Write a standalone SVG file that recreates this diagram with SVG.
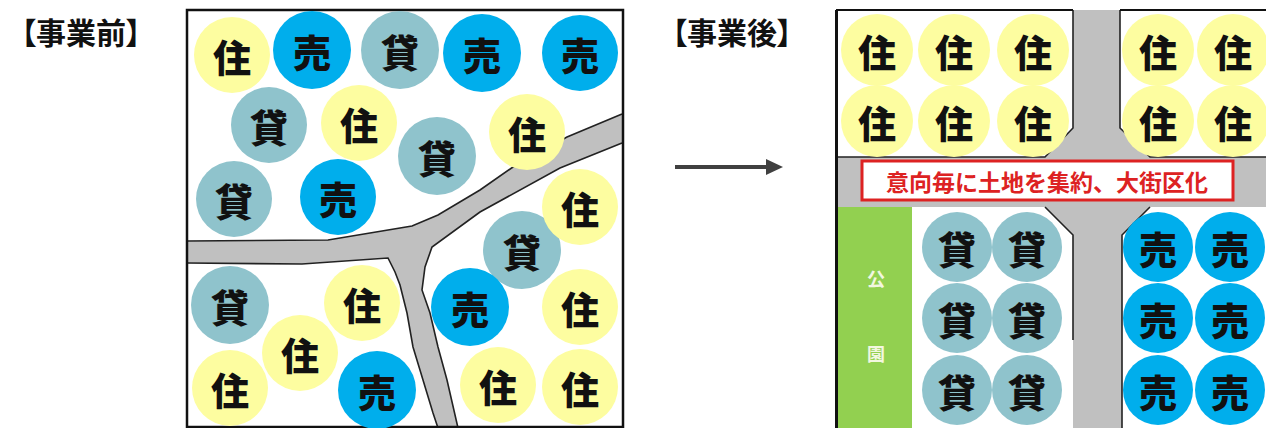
<svg xmlns="http://www.w3.org/2000/svg" width="1266" height="428" viewBox="0 0 1266 428">
<style>
text{font-family:"Noto Sans CJK JP","Noto Sans CJK SC",sans-serif;dominant-baseline:central;text-anchor:middle}
.y{fill:#FDFDA0}
.b{fill:#00AEEC}
.t{fill:#8FC3CC}
.lbl{font-size:38px;font-weight:900;fill:#111}
.ttl{font-size:30px;font-weight:700;fill:#111;text-anchor:start;font-feature-settings:"palt"}
.road{fill:#C0C0C0}
.edge{fill:none;stroke:#222;stroke-width:1.6}
.frame{fill:none;stroke:#111;stroke-width:2.5}
</style>
<rect width="1266" height="428" fill="#fff"/>

<g id="title-before"><text class="ttl" x="21" y="31">【事業前】</text></g>
<g id="title-after"><text class="ttl" x="672" y="31">【事業後】</text></g>

<!-- BEFORE panel -->
<g id="before-roads">
<path class="road" d="M187,241 L328,240 L412,226 L438,215 L480,190 L513,167 L567,137 L622,114 L622,143 L560,168 L480,212 L432,247 L425,267 L422,290 L430,313 L438,347 L447,380 L458,428 L438,428 L433,413 L423,380 L413,347 L407,313 L400,285 L395,272 L388,258 L302,264 L187,263 Z"/>
<polyline class="edge" points="187,241 328,240 412,226 438,215 480,190 513,167 567,137 622,114"/>
<polyline class="edge" points="622,143 560,168 480,212 432,247 425,267 422,290 430,313 438,347 447,380 458,428"/>
<polyline class="edge" points="187,263 302,264 388,258 395,272 400,285 407,313 413,347 423,380 433,413 438,428"/>
</g>
<g id="before-frame"><rect class="frame" x="187" y="10" width="436" height="417"/></g>

<g id="b1"><circle class="y" cx="232" cy="55" r="38"/><text class="lbl" x="232" y="55">住</text></g>
<g id="b2"><circle class="b" cx="312" cy="50" r="39"/><text class="lbl" x="312" y="50">売</text></g>
<g id="b3"><circle class="t" cx="400" cy="50" r="39"/><text class="lbl" x="400" y="50">貸</text></g>
<g id="b4"><circle class="b" cx="482" cy="53" r="39"/><text class="lbl" x="482" y="53">売</text></g>
<g id="b5"><circle class="b" cx="580" cy="53" r="38"/><text class="lbl" x="580" y="53">売</text></g>
<g id="b6"><circle class="t" cx="269" cy="125" r="38"/><text class="lbl" x="269" y="125">貸</text></g>
<g id="b7"><circle class="y" cx="359" cy="123" r="38"/><text class="lbl" x="359" y="123">住</text></g>
<g id="b8"><circle class="t" cx="437" cy="156" r="39"/><text class="lbl" x="437" y="156">貸</text></g>
<g id="b9"><circle class="y" cx="527" cy="132" r="38"/><text class="lbl" x="527" y="132">住</text></g>
<g id="b10"><circle class="t" cx="234" cy="199" r="38"/><text class="lbl" x="234" y="199">貸</text></g>
<g id="b11"><circle class="b" cx="338" cy="197" r="38"/><text class="lbl" x="338" y="197">売</text></g>
<g id="b12"><circle class="t" cx="522" cy="250" r="39"/><text class="lbl" x="522" y="250">貸</text></g>
<g id="b13"><circle class="y" cx="580" cy="207" r="38"/><text class="lbl" x="580" y="207">住</text></g>
<g id="b14"><circle class="t" cx="230" cy="305" r="39"/><text class="lbl" x="230" y="305">貸</text></g>
<g id="b15"><circle class="y" cx="362" cy="303" r="38"/><text class="lbl" x="362" y="303">住</text></g>
<g id="b16"><circle class="y" cx="230" cy="388" r="38"/><text class="lbl" x="230" y="388">住</text></g>
<g id="b17"><circle class="y" cx="300" cy="353" r="38"/><text class="lbl" x="300" y="353">住</text></g>
<g id="b18"><circle class="b" cx="377" cy="390" r="39"/><text class="lbl" x="377" y="390">売</text></g>
<g id="b19"><circle class="b" cx="470" cy="307" r="39"/><text class="lbl" x="470" y="307">売</text></g>
<g id="b20"><circle class="y" cx="580" cy="307" r="38"/><text class="lbl" x="580" y="307">住</text></g>
<g id="b21"><circle class="y" cx="498" cy="385" r="38"/><text class="lbl" x="498" y="385">住</text></g>
<g id="b22"><circle class="y" cx="580" cy="387" r="38"/><text class="lbl" x="580" y="387">住</text></g>

<g id="connectors">
<line x1="675" y1="167" x2="768" y2="167" stroke="#404040" stroke-width="4"/>
<polygon points="766,159 783,167 766,175" fill="#404040"/>
</g>

<!-- AFTER panel -->
<g id="after-roads">
<rect class="road" x="836" y="157" width="430" height="50"/>
<path class="road" d="M1073,10 L1120,10 L1120,128 L1150,157 L1150,207 L1122,235 L1122,428 L1073,428 L1073,235 L1045,207 L1045,157 L1073,128 Z"/>
<polyline class="edge" points="836,157 1045,157 1073,128 1073,10"/>
<polyline class="edge" points="1120,10 1120,128 1150,157 1266,157"/>
<polyline class="edge" points="1045,207 1073,235 1073,340"/>
<polyline class="edge" points="1150,207 1122,235 1122,428"/>
<line x1="836" y1="10" x2="1073" y2="10" stroke="#111" stroke-width="2"/>
<line x1="1120" y1="10" x2="1266" y2="10" stroke="#111" stroke-width="2"/>
</g>
<g id="park"><rect x="838" y="207" width="74" height="221" fill="#92D050"/>
<text x="876" y="278" font-size="18" font-weight="700" fill="#F2F7E0">公</text>
<text x="876" y="353" font-size="18" font-weight="700" fill="#F2F7E0">園</text></g>
<line x1="836.5" y1="10" x2="836.5" y2="428" stroke="#111" stroke-width="3"/>

<g id="banner"><rect x="862" y="161" width="371" height="39" fill="#fff" stroke="#DD2222" stroke-width="3"/>
<text x="1047" y="181" font-size="23" font-weight="700" fill="#DD2222">意向毎に土地を集約、大街区化</text></g>

<g id="a1"><circle class="y" cx="877" cy="50" r="36"/><text class="lbl" x="877" y="50">住</text></g>
<g id="a2"><circle class="y" cx="954" cy="50" r="36"/><text class="lbl" x="954" y="50">住</text></g>
<g id="a3"><circle class="y" cx="1033" cy="50" r="36"/><text class="lbl" x="1033" y="50">住</text></g>
<g id="a4"><circle class="y" cx="1158" cy="50" r="36"/><text class="lbl" x="1158" y="50">住</text></g>
<g id="a5"><circle class="y" cx="1233" cy="50" r="36"/><text class="lbl" x="1233" y="50">住</text></g>
<g id="a6"><circle class="y" cx="877" cy="121" r="36"/><text class="lbl" x="877" y="121">住</text></g>
<g id="a7"><circle class="y" cx="954" cy="121" r="36"/><text class="lbl" x="954" y="121">住</text></g>
<g id="a8"><circle class="y" cx="1033" cy="121" r="36"/><text class="lbl" x="1033" y="121">住</text></g>
<g id="a9"><circle class="y" cx="1158" cy="121" r="36"/><text class="lbl" x="1158" y="121">住</text></g>
<g id="a10"><circle class="y" cx="1233" cy="121" r="36"/><text class="lbl" x="1233" y="121">住</text></g>

<g id="a11"><circle class="t" cx="957" cy="247" r="35"/><text class="lbl" x="957" y="247">貸</text></g>
<g id="a12"><circle class="t" cx="1027" cy="247" r="35"/><text class="lbl" x="1027" y="247">貸</text></g>
<g id="a13"><circle class="t" cx="957" cy="318" r="35"/><text class="lbl" x="957" y="318">貸</text></g>
<g id="a14"><circle class="t" cx="1027" cy="318" r="35"/><text class="lbl" x="1027" y="318">貸</text></g>
<g id="a15"><circle class="t" cx="957" cy="390" r="35"/><text class="lbl" x="957" y="390">貸</text></g>
<g id="a16"><circle class="t" cx="1027" cy="390" r="35"/><text class="lbl" x="1027" y="390">貸</text></g>
<g id="a17"><circle class="b" cx="1158" cy="247" r="35"/><text class="lbl" x="1158" y="247">売</text></g>
<g id="a18"><circle class="b" cx="1230" cy="247" r="35"/><text class="lbl" x="1230" y="247">売</text></g>
<g id="a19"><circle class="b" cx="1158" cy="318" r="35"/><text class="lbl" x="1158" y="318">売</text></g>
<g id="a20"><circle class="b" cx="1230" cy="318" r="35"/><text class="lbl" x="1230" y="318">売</text></g>
<g id="a21"><circle class="b" cx="1158" cy="390" r="35"/><text class="lbl" x="1158" y="390">売</text></g>
<g id="a22"><circle class="b" cx="1230" cy="390" r="35"/><text class="lbl" x="1230" y="390">売</text></g>
</svg>
